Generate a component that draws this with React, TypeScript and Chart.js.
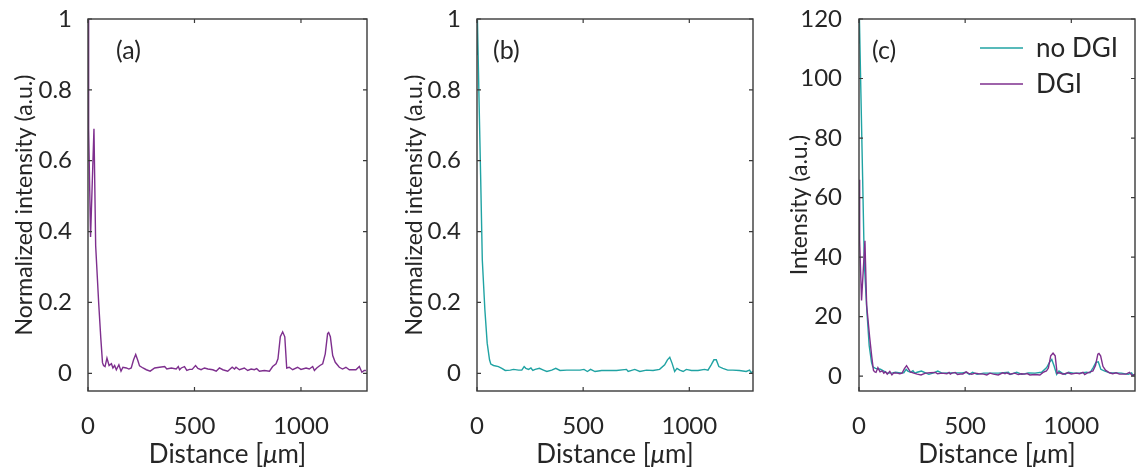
import React, { useEffect, useRef } from "react";
import { Chart, registerables } from "chart.js";

Chart.register(...registerables);

// ---------- data ----------
const DIST_A = [
  0, 3, 12, 28, 36, 50, 60, 68, 73, 80,
  89, 99, 110, 117, 125, 133, 145, 155, 164, 180,
  192, 203, 214, 224, 234, 242, 258, 274, 292, 313,
  336, 360, 370, 391, 414, 424, 430, 438, 453, 464,
  477, 489, 505, 516, 531, 547, 563, 586, 602, 617,
  633, 656, 677, 688, 695, 711, 734, 750, 766, 781,
  792, 805, 828, 852, 867, 883, 892, 903, 914, 924,
  933, 945, 961, 984, 1000, 1024, 1039, 1055, 1063, 1074,
  1089, 1102, 1114, 1125, 1130, 1138, 1149, 1161, 1180, 1195,
  1211, 1227, 1242, 1258, 1274, 1286, 1297, 1305,
];

const DGI_NORM = [
  1.0, 0.69, 0.385, 0.69, 0.36, 0.2, 0.1, 0.03, 0.022, 0.019,
  0.043, 0.022, 0.027, 0.015, 0.022, 0.010, 0.024, 0.006, 0.017, 0.015,
  0.012, 0.015, 0.038, 0.053, 0.036, 0.021, 0.015, 0.010, 0.006, 0.015,
  0.017, 0.019, 0.012, 0.015, 0.012, 0.019, 0.010, 0.015, 0.019, 0.008,
  0.011, 0.011, 0.022, 0.014, 0.010, 0.015, 0.012, 0.010, 0.006, 0.015,
  0.010, 0.006, 0.017, 0.012, 0.017, 0.010, 0.015, 0.008, 0.012, 0.010,
  0.013, 0.006, 0.008, 0.006, 0.019, 0.027, 0.041, 0.103, 0.117, 0.103,
  0.015, 0.017, 0.010, 0.017, 0.011, 0.015, 0.012, 0.019, 0.008, 0.015,
  0.022, 0.027, 0.055, 0.112, 0.115, 0.103, 0.050, 0.031, 0.017, 0.012,
  0.017, 0.010, 0.010, 0.010, 0.019, 0.003, 0.008, 0.008,
];

const DGI_INT = [
  66, 45.5, 25.4, 45.5, 23.8, 13.2, 6.6, 2.0, 1.45, 1.25,
  2.84, 1.45, 1.78, 0.99, 1.45, 0.66, 1.58, 0.40, 1.12, 0.99,
  0.79, 0.99, 2.5, 3.5, 2.38, 1.39, 0.99, 0.66, 0.40, 0.99,
  1.12, 1.25, 0.79, 0.99, 0.79, 1.25, 0.66, 0.99, 1.25, 0.53,
  0.73, 0.73, 1.45, 0.92, 0.66, 0.99, 0.79, 0.66, 0.40, 0.99,
  0.66, 0.40, 1.12, 0.79, 1.12, 0.66, 0.99, 0.53, 0.79, 0.66,
  0.86, 0.40, 0.53, 0.40, 1.25, 1.78, 2.7, 6.8, 7.7, 6.8,
  0.99, 1.12, 0.66, 1.12, 0.73, 0.99, 0.79, 1.25, 0.53, 0.99,
  1.45, 1.78, 3.6, 7.4, 7.6, 6.8, 3.3, 2.0, 1.12, 0.79,
  1.12, 0.66, 0.66, 0.66, 1.25, 0.2, 0.53, 0.53,
];

const DIST_B = [
  0, 2, 9, 17, 25, 37, 48, 59, 65, 78,
  101, 117, 133, 157, 172, 196, 211, 222, 230, 243,
  254, 263, 274, 294, 313, 329, 352, 371, 391, 423,
  454, 485, 504, 520, 535, 556, 587, 626, 657, 704,
  712, 743, 767, 798, 829, 860, 884, 897, 908, 919,
  931, 942, 955, 971, 986, 1010, 1041, 1072, 1088, 1103,
  1116, 1127, 1139, 1158, 1181, 1205, 1236, 1268, 1284, 1291,
  1300,
];

const NODGI_NORM = [
  0.90, 1.0, 0.79, 0.56, 0.32, 0.18, 0.085, 0.038, 0.026, 0.022,
  0.019, 0.014, 0.008, 0.009, 0.011, 0.009, 0.009, 0.019, 0.014, 0.011,
  0.015, 0.008, 0.011, 0.014, 0.009, 0.005, 0.009, 0.014, 0.008, 0.009,
  0.009, 0.009, 0.011, 0.005, 0.011, 0.005, 0.008, 0.008, 0.008, 0.011,
  0.005, 0.011, 0.005, 0.009, 0.008, 0.011, 0.024, 0.038, 0.045, 0.028,
  0.005, 0.014, 0.009, 0.005, 0.011, 0.008, 0.008, 0.011, 0.009, 0.024,
  0.038, 0.038, 0.019, 0.014, 0.009, 0.009, 0.008, 0.005, 0.009, 0.002,
  0.005,
];

const NODGI_INT = [
  112, 120, 95, 67, 38, 22, 10.2, 4.6, 3.1, 2.6,
  2.3, 1.7, 1.0, 1.1, 1.3, 1.1, 1.1, 2.3, 1.7, 1.3,
  1.8, 1.0, 1.3, 1.7, 1.1, 0.6, 1.1, 1.7, 1.0, 1.1,
  1.1, 1.1, 1.3, 0.6, 1.3, 0.6, 1.0, 1.0, 1.0, 1.3,
  0.6, 1.3, 0.6, 1.1, 1.0, 1.3, 2.9, 4.6, 5.6, 3.4,
  0.6, 1.7, 1.1, 0.6, 1.3, 1.0, 1.0, 1.3, 1.1, 2.9,
  4.6, 4.8, 2.3, 1.7, 1.1, 1.1, 1.0, 0.6, 1.1, 0.2,
  0.6,
];

const X_TICKS = [0, 500, 1000];
const Y_TICKS_NORM = [0, 0.2, 0.4, 0.6, 0.8, 1];
const Y_TICKS_INT = [0, 20, 40, 60, 80, 100, 120];
const PANEL_LABELS = ["(a)", "(b)", "(c)"];
const SERIES_NAMES = ["no DGI", "DGI"];
// x title "Distance [μm]" with the μ set in italic as in the reference
const X_TITLE_PARTS = [
  { text: "Distance [", italic: false },
  { text: "μ", italic: true },
  { text: "m]", italic: false },
];
const Y_TITLES = ["Normalized intensity (a.u.)", "Normalized intensity (a.u.)", "Intensity (a.u.)"];

// ---------- style ----------
const H = 468;
const FONT = "Lato, 'Open Sans', sans-serif";
const TEXT = "#262626";
const FRAME = "#3a3a3a";
const PURPLE = "#7E2F8E";
const TEAL = "#20A3A3";
const TICK_SIZE = 24;
const Y_TITLE_SIZE = 23;
const X_TITLE_SIZE = 26;

type Series = { label: string; x: number[]; y: number[]; color: string };
type PanelCfg = {
  left: number;
  width: number;
  area: { left: number; right: number; top: number; bottom: number };
  xMax: number;
  yMin: number;
  yMax: number;
  yTicks: number[];
  yTitle: string;
  yTitlePad: number;
  yTickPad: number;
  series: Series[];
  label: string;
  labelX: number;
  legend: boolean;
};

const PANELS: PanelCfg[] = [
  {
    left: 0, width: 380,
    area: { left: 88, right: 367, top: 19, bottom: 391 },
    xMax: 1310, yMin: -0.05, yMax: 1, yTicks: Y_TICKS_NORM,
    yTitle: Y_TITLES[0], yTitlePad: 11, yTickPad: 8,
    series: [{ label: SERIES_NAMES[1], x: DIST_A, y: DGI_NORM, color: PURPLE }],
    label: PANEL_LABELS[0], labelX: 116, legend: false,
  },
  {
    left: 380, width: 380,
    area: { left: 97, right: 373, top: 19, bottom: 391 },
    xMax: 1300, yMin: -0.05, yMax: 1, yTicks: Y_TICKS_NORM,
    yTitle: Y_TITLES[1], yTitlePad: 21, yTickPad: 8,
    series: [{ label: SERIES_NAMES[0], x: DIST_B, y: NODGI_NORM, color: TEAL }],
    label: PANEL_LABELS[1], labelX: 113, legend: false,
  },
  {
    left: 760, width: 376,
    area: { left: 99, right: 375, top: 19, bottom: 391 },
    xMax: 1300, yMin: -5, yMax: 120, yTicks: Y_TICKS_INT,
    yTitle: Y_TITLES[2], yTitlePad: 26, yTickPad: 9,
    series: [
      { label: SERIES_NAMES[1], x: DIST_A, y: DGI_INT, color: PURPLE },
      { label: SERIES_NAMES[0], x: DIST_B, y: NODGI_INT, color: TEAL },
    ],
    label: PANEL_LABELS[2], labelX: 112, legend: true,
  },
];

const framePlugin = {
  id: "frame",
  afterDatasetsDraw(chart: any, _args: any, opts: any) {
    const { ctx, chartArea: a, scales } = chart;
    const xs = scales.x;
    const ys = scales.y;
    ctx.save();
    ctx.strokeStyle = FRAME;
    ctx.lineWidth = 1.4;
    ctx.strokeRect(a.left, a.top, a.right - a.left, a.bottom - a.top);
    const tl = 4;
    ctx.beginPath();
    xs.ticks.forEach((t: any) => {
      const p = xs.getPixelForValue(t.value);
      ctx.moveTo(p, a.bottom);
      ctx.lineTo(p, a.bottom - tl);
      ctx.moveTo(p, a.top);
      ctx.lineTo(p, a.top + tl);
    });
    ys.ticks.forEach((t: any) => {
      const p = ys.getPixelForValue(t.value);
      ctx.moveTo(a.left, p);
      ctx.lineTo(a.left + tl, p);
      ctx.moveTo(a.right, p);
      ctx.lineTo(a.right - tl, p);
    });
    ctx.lineWidth = 1.2;
    ctx.stroke();

    ctx.fillStyle = TEXT;
    ctx.textBaseline = "middle";
    ctx.textAlign = "left";

    // x-axis title with italic mu
    const fontFor = (it: boolean) => `${it ? "italic " : ""}${X_TITLE_SIZE}px ${FONT}`;
    let total = 0;
    const widths = X_TITLE_PARTS.map((p) => {
      ctx.font = fontFor(p.italic);
      const w = ctx.measureText(p.text).width;
      total += w;
      return w;
    });
    let tx = (a.left + a.right) / 2 - total / 2;
    X_TITLE_PARTS.forEach((p, i) => {
      ctx.font = fontFor(p.italic);
      ctx.fillText(p.text, tx, 455);
      tx += widths[i];
    });

    // panel label
    ctx.font = `25px ${FONT}`;
    ctx.fillText(opts.label, opts.labelX, 51);

    if (opts.legend) {
      const items = SERIES_NAMES.map((name) => {
        const ds = chart.data.datasets.find((d: any) => d.label === name);
        return { name, color: ds ? ds.borderColor : TEXT };
      });
      ctx.font = `26px ${FONT}`;
      items.forEach((it: any, i: number) => {
        const y = 48 + i * 36;
        ctx.strokeStyle = it.color;
        ctx.lineWidth = 1.5;
        ctx.beginPath();
        ctx.moveTo(220, y);
        ctx.lineTo(263, y);
        ctx.stroke();
        ctx.fillStyle = TEXT;
        ctx.fillText(it.name, 276, y + 1);
      });
    }
    ctx.restore();
  },
};

function Panel({ cfg }: { cfg: PanelCfg }) {
  const ref = useRef<HTMLCanvasElement>(null);
  useEffect(() => {
    const canvas = ref.current!;
    const chart = new Chart(canvas, {
      type: "line",
      data: {
        datasets: cfg.series.map((s) => ({
          label: s.label,
          data: s.x.map((x, i) => ({ x, y: s.y[i] })),
          borderColor: s.color,
          backgroundColor: s.color,
          borderWidth: 1.4,
          pointRadius: 0,
          tension: 0,
          fill: false,
        })),
      },
      options: {
        responsive: false,
        animation: false,
        devicePixelRatio: 1,
        events: [],
        layout: {
          padding: { left: 0, right: cfg.width - cfg.area.right, top: cfg.area.top, bottom: 0 },
        },
        plugins: {
          legend: { display: false },
          tooltip: { enabled: false },
          frame: { label: cfg.label, labelX: cfg.labelX, legend: cfg.legend },
        } as any,
        scales: {
          x: {
            type: "linear",
            min: 0,
            max: cfg.xMax,
            grid: { display: false },
            border: { display: false },
            afterBuildTicks: (s: any) => {
              s.ticks = X_TICKS.map((v) => ({ value: v }));
            },
            afterFit: (s: any) => {
              s.height = H - cfg.area.bottom;
              s.paddingLeft = 0;
              s.paddingRight = 0;
            },
            ticks: {
              color: TEXT,
              font: { family: FONT, size: TICK_SIZE },
              padding: 13,
              maxRotation: 0,
              autoSkip: false,
              callback: (v: any) => String(v),
            },
            title: { display: false },
          },
          y: {
            type: "linear",
            min: cfg.yMin,
            max: cfg.yMax,
            grid: { display: false },
            border: { display: false },
            afterBuildTicks: (s: any) => {
              s.ticks = cfg.yTicks.map((v) => ({ value: v }));
            },
            afterFit: (s: any) => {
              s.width = cfg.area.left;
              s.paddingTop = 0;
              s.paddingBottom = 0;
            },
            ticks: {
              color: TEXT,
              font: { family: FONT, size: TICK_SIZE },
              padding: cfg.yTickPad,
              autoSkip: false,
              callback: (v: any) => String(Math.round(v * 100) / 100),
            },
            title: {
              display: true,
              text: cfg.yTitle,
              color: TEXT,
              font: { family: FONT, size: Y_TITLE_SIZE },
              padding: { top: cfg.yTitlePad, bottom: 0 },
            },
          },
        },
      },
      plugins: [framePlugin as any],
    });
    return () => chart.destroy();
  }, [cfg]);
  return (
    <canvas
      ref={ref}
      width={cfg.width}
      height={H}
      style={{ position: "absolute", left: cfg.left, top: 0, width: cfg.width, height: H }}
    />
  );
}

export default function App() {
  return (
    <div
      style={{
        position: "absolute",
        left: 0,
        top: 0,
        width: 1136,
        height: H,
        overflow: "hidden",
        background: "#fff",
      }}
    >
      {PANELS.map((p, i) => (
        <Panel key={i} cfg={p} />
      ))}
    </div>
  );
}
